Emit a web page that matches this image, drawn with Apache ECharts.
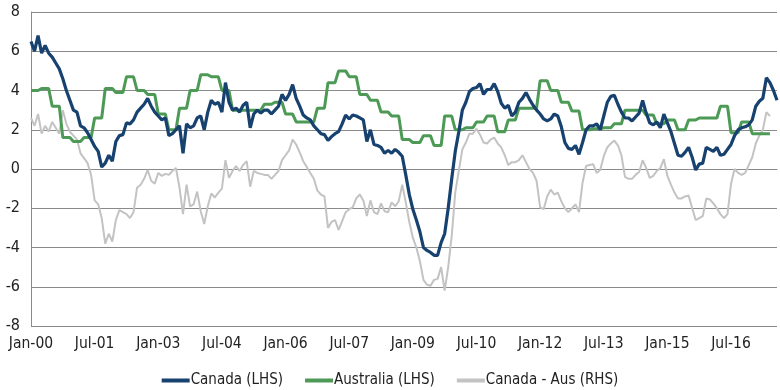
<!DOCTYPE html>
<html>
<head>
<meta charset="utf-8">
<script src="https://cdn.jsdelivr.net/npm/echarts@6/dist/echarts.min.js"></script>
<style>
html,body{margin:0;padding:0;background:#fff;}
#chart{width:780px;height:390px;}
</style>
</head>
<body>
<div id="chart"></div>
<script>
// Tick labels shown on the x axis (every 18 months)
const tickLabels = ['Jan-00','Jul-01','Jan-03','Jul-04','Jan-06','Jul-07','Jan-09','Jul-10','Jan-12','Jul-13','Jan-15','Jul-16'];
const monthNames = ['Jan','Feb','Mar','Apr','May','Jun','Jul','Aug','Sep','Oct','Nov','Dec'];

// Canada (LHS), monthly from Jan-00
const canada = [
 6.5, 6.0, 6.8, 5.9, 6.3, 5.9, 5.7, 5.4, 5.1, 4.6,
 4.0, 3.5, 3.0, 2.9, 2.2, 2.1, 1.85, 1.5, 1.15, 0.9,
 0.1, 0.3, 0.7, 0.4, 1.4, 1.7, 1.75, 2.35, 2.3, 2.5,
 2.9, 3.1, 3.3, 3.6, 3.2, 2.9, 2.7, 2.5, 2.6, 1.7,
 1.8, 2.0, 2.2, 0.8, 2.3, 2.1, 2.2, 2.6, 2.7, 2.0,
 2.9, 3.5, 3.3, 3.4, 2.9, 4.4, 3.4, 3.0, 3.1, 2.9,
 3.25, 3.4, 2.1, 2.8, 3.0, 2.85, 3.0, 3.0, 2.8, 3.0,
 3.2, 3.8, 3.5, 3.8, 4.3, 3.6, 3.2, 2.75, 2.6, 2.5,
 2.2, 2.0, 1.8, 1.75, 1.45, 1.65, 1.8, 1.9, 2.3, 2.75,
 2.55, 2.75, 2.7, 2.6, 2.5, 1.4, 2.0, 1.25, 1.2, 1.1,
 0.8, 0.95, 0.8, 1.0, 0.85, 0.65, -0.3, -1.3, -2.05, -2.6,
 -3.2, -4.0, -4.15, -4.25, -4.4, -4.4, -3.75, -3.3, -2.0, -0.5,
 0.9, 1.9, 3.0, 3.4, 3.95, 4.1, 4.15, 4.35, 3.8, 4.05,
 4.05, 4.35, 3.95, 3.35, 3.1, 3.25, 2.7, 2.9, 3.4, 3.6,
 3.9, 3.55, 3.25, 3.0, 2.8, 2.55, 2.45, 2.55, 2.8, 2.7,
 2.15, 1.35, 1.05, 1.0, 1.2, 0.75, 1.35, 2.0, 2.2, 2.2,
 2.3, 2.0, 2.7, 3.4, 3.7, 3.75, 3.3, 2.9, 2.6, 2.6,
 2.45, 2.65, 2.85, 3.5, 2.85, 2.35, 2.25, 2.4, 2.1, 2.8,
 2.35, 1.9, 1.3, 0.7, 0.65, 0.85, 1.1, 0.6, -0.05, 0.25,
 0.3, 1.1, 1.0, 0.9, 1.1, 0.7, 0.75, 1.0, 1.25, 1.7,
 2.0, 2.1, 2.15, 2.25, 2.5, 3.2, 3.45, 3.6, 4.65, 4.4, 4.0, 3.5
];

// Australia (LHS), monthly (quarterly readings held for each month)
const australia = [
 4.0,4.0,4.0, 4.1,4.1,4.1, 3.2,3.2,3.2, 1.6,1.6,1.6,
 1.4,1.4,1.4, 1.6,1.6,1.6, 2.6,2.6,2.6, 4.1,4.1,4.1,
 3.9,3.9,3.9, 4.7,4.7,4.7, 4.0,4.0,4.0, 3.8,3.8,3.8,
 2.8,2.8,2.8, 2.0,2.0,2.0, 3.1,3.1,3.1, 4.0,4.0,4.0,
 4.8,4.8,4.8, 4.7,4.7,4.7, 4.0,4.0,4.0, 3.0,3.0,3.0,
 3.0,3.0,3.0, 3.0,3.0,3.0, 3.3,3.3,3.3, 3.4,3.4,3.4,
 2.8,2.8,2.8, 2.4,2.4,2.4, 2.4,2.4,2.4, 3.1,3.1,3.1,
 4.4,4.4,4.4, 5.0,5.0,5.0, 4.7,4.7,4.7, 3.8,3.8,3.8,
 3.5,3.5,3.5, 2.9,2.9,2.9, 2.7,2.7,2.7, 1.5,1.5,1.5,
 1.35,1.35,1.35, 1.7,1.7,1.7, 1.2,1.2,1.2, 2.7,2.7,2.7,
 2.0,2.0,2.0, 2.1,2.1,2.1, 2.4,2.4,2.4, 2.7,2.7,2.7,
 1.9,1.9,1.9, 2.5,2.5,2.5, 3.1,3.1,3.1, 3.1,3.1,3.1,
 4.5,4.5,4.5, 4.0,4.0,4.0, 3.4,3.4,3.4, 2.95,2.95,2.95,
 2.0,2.0,2.0, 2.05,2.05,2.05, 2.1,2.1,2.1, 2.3,2.3,2.3,
 3.0,3.0,3.0, 3.0,3.0,3.0, 2.75,2.75,2.75, 2.3,2.3,2.3,
 2.5,2.5,2.5, 2.0,2.0,2.0, 2.5,2.5,2.5, 2.6,2.6,2.6,
 2.6,2.6,2.6, 3.2,3.2,3.2, 1.85,1.85,1.85, 2.4,2.4,2.4,
 1.8,1.8,1.8, 1.8,1.8,1.8
];

// Canada - Aus (RHS), monthly
const diffCanAus = [
 2.6, 2.2, 2.8, 1.8, 2.2, 1.9, 2.4, 2.1, 1.8, 3.0,
 2.3, 1.9, 1.7, 1.5, 0.8, 0.55, 0.3, -0.3, -1.6, -1.8,
 -2.5, -3.8, -3.3, -3.7, -2.6, -2.1, -2.2, -2.3, -2.5, -2.2,
 -0.95, -0.8, -0.5, -0.05, -0.6, -0.75, -0.2, -0.35, -0.25, -0.3,
 -0.1, 0.05, -0.95, -2.3, -0.8, -1.9, -1.8, -1.15, -2.15, -2.8,
 -1.9, -1.25, -1.45, -1.2, -1.0, 0.45, -0.45, -0.1, 0.15, -0.1,
 0.2, 0.4, -0.9, -0.1, -0.2, -0.25, -0.3, -0.3, -0.5, -0.3,
 -0.1, 0.45, 0.7, 0.95, 1.5, 1.25, 0.85, 0.4, 0.1, -0.2,
 -0.5, -1.1, -1.3, -1.4, -3.0, -2.7, -2.6, -3.1, -2.65, -2.2,
 -2.05, -1.95, -1.5, -1.3, -1.6, -2.4, -1.6, -2.2, -2.3, -1.75,
 -2.15, -2.2, -1.7, -1.9, -1.65, -0.8, -1.7, -2.7, -3.5, -4.0,
 -4.7, -5.65, -5.9, -5.95, -5.65, -5.6, -5.0, -6.2, -5.0, -3.4,
 -1.2, -0.1, 1.0, 1.35, 1.8, 1.8, 2.05, 1.75, 1.35, 1.3,
 1.5, 1.6, 1.3, 1.1, 0.7, 0.2, 0.35, 0.35, 0.45, 0.7,
 0.35, 0.0, -0.2, -0.6, -1.95, -2.05, -1.4, -1.05, -1.3, -1.2,
 -1.65, -2.0, -2.2, -2.0, -1.8, -2.2, -0.7, 0.15, 0.2, 0.25,
 -0.2, -0.05, 0.65, 1.1, 1.3, 1.45, 1.2, 0.7, -0.4, -0.5,
 -0.5, -0.3, -0.15, 0.45, 0.05, -0.45, -0.35, -0.1, 0.05, 0.5,
 -0.35, -0.8, -1.2, -1.5, -1.5, -1.4, -1.35, -2.0, -2.6, -2.5,
 -2.4, -1.5, -1.55, -1.75, -2.0, -2.3, -2.5, -2.3, -0.75, 0.0,
 -0.2, -0.3, -0.2, 0.2, 0.6, 1.3, 1.7, 2.0, 2.9, 2.7
];

// Month categories (Jan-00 onward), one per Canada value
const categories = canada.map((_, i) => {
  const y = Math.floor(i / 12), mo = i % 12;
  return monthNames[mo] + '-' + String(y).padStart(2, '0');
});

const FONT = "'Liberation Sans Narrow','Arial Narrow','DejaVu Sans Condensed',sans-serif";
const chart = echarts.init(document.getElementById('chart'), null, {renderer: 'canvas'});
chart.setOption({
  animation: false,
  backgroundColor: '#ffffff',
  textStyle: {fontFamily: FONT},
  grid: {left: 31, right: 3, top: 12, bottom: 64, containLabel: false},
  legend: {
    top: 368,
    left: 'center',
    icon: 'rect',
    itemWidth: 28,
    itemHeight: 4,
    itemGap: 22,
    textStyle: {fontFamily: FONT, fontSize: 15, color: '#222', padding: [0, 0, 0, -4]},
    data: ['Canada (LHS)', 'Australia (LHS)', 'Canada - Aus (RHS)']
  },
  xAxis: {
    type: 'category',
    data: categories,
    boundaryGap: false,
    axisLine: {show: true, lineStyle: {color: '#8a8a8a', width: 1}},
    axisTick: {show: false},
    splitLine: {show: false},
    axisLabel: {
      interval: (idx, val) => tickLabels.indexOf(val) >= 0,
      margin: 10,
      fontFamily: FONT,
      fontSize: 15.5,
      color: '#222'
    }
  },
  yAxis: {
    type: 'value',
    min: -8,
    max: 8,
    interval: 2,
    axisLine: {show: true, lineStyle: {color: '#8a8a8a', width: 1}},
    axisTick: {show: false},
    splitLine: {show: true, lineStyle: {color: '#8a8a8a', width: 1}},
    axisLabel: {margin: 11, fontFamily: FONT, fontSize: 16, color: '#222'}
  },
  series: [
    {
      name: 'Canada - Aus (RHS)',
      type: 'line',
      data: diffCanAus,
      symbol: 'none',
      z: 1,
      lineStyle: {color: '#c3c3c3', width: 2},
      itemStyle: {color: '#c3c3c3'}
    },
    {
      name: 'Australia (LHS)',
      type: 'line',
      data: australia,
      symbol: 'none',
      z: 2,
      lineStyle: {color: '#4c9a55', width: 3},
      itemStyle: {color: '#4c9a55'}
    },
    {
      name: 'Canada (LHS)',
      type: 'line',
      data: canada,
      symbol: 'none',
      z: 3,
      lineStyle: {color: '#17416f', width: 3.2},
      itemStyle: {color: '#17416f'}
    }
  ]
});
</script>
</body>
</html>
